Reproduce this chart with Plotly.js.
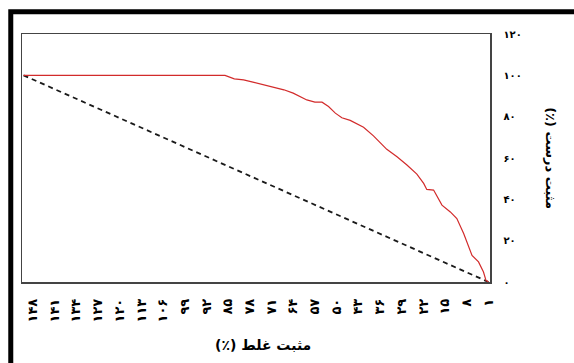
<!DOCTYPE html>
<html>
<head>
<meta charset="utf-8">
<script src="https://cdn.plot.ly/plotly-3.0.1.min.js"></script>
<style>html,body{margin:0;padding:0;background:#fff;}#chart{width:574px;height:363px;}</style>
</head>
<body>
<div id="chart"></div>
<script>
// Red ROC-like curve (x = false positive, y = true positive %)
var curveX = [151, 86, 83, 80, 77, 72.5, 70, 67, 64, 61.7, 59.6, 57, 54.7, 52.6, 50.4, 48.3, 45.6, 41.3, 38.1, 33.8, 30.5, 27.3, 24.1, 21.9, 20.9, 18.7, 16, 13.3, 11.2, 9, 6.3, 4.2, 2.6, 1.8, 1];
var curveY = [100, 100, 98.3, 97.8, 96.7, 95.1, 94.1, 93, 91.4, 89.7, 88.1, 87, 87, 84.9, 81.7, 79.5, 78.2, 74.9, 70.7, 64.2, 60.6, 56.6, 52.2, 47.7, 44.8, 44.5, 37.2, 33.9, 30.7, 23.5, 12.9, 9.7, 4.8, 0.8, 0];
// Dashed reference diagonal
var diagX = [151, 1];
var diagY = [100, 0];
// Tick labels
var xTickVals = [148, 141, 134, 127, 120, 113, 106, 99, 92, 85, 78, 71, 64, 57, 50, 43, 36, 29, 22, 15, 8, 1];
var xTickText = ['۱۴۸','۱۴۱','۱۳۴','۱۲۷','۱۲۰','۱۱۳','۱۰۶','۹۹','۹۲','۸۵','۷۸','۷۱','۶۴','۵۷','۵۰','۴۳','۳۶','۲۹','۲۲','۱۵','۸','۱'];
var yTickVals = [0, 20, 40, 60, 80, 100, 120];
var yTickText = ['۰','۲۰','۴۰','۶۰','۸۰','۱۰۰','۱۲۰'];
var xTitle = 'مثبت غلط (٪)';
var yTitle = 'مثبت درست (٪)';

var FONT = 'DejaVu Sans, Noto Sans, sans-serif';
function rtl(s) { return '\u202B' + s + '\u202C'; }

var traces = [
  {x: diagX, y: diagY, type: 'scatter', mode: 'lines',
   line: {color: '#1a1a1a', width: 1.8, dash: '5px,4px'}, hoverinfo: 'skip'},
  {x: curveX, y: curveY, type: 'scatter', mode: 'lines',
   line: {color: '#d22b2b', width: 1.2}, hoverinfo: 'skip'}
];

var layout = {
  width: 574, height: 363,
  margin: {l: 22, r: 84, t: 34, b: 81},
  paper_bgcolor: '#ffffff', plot_bgcolor: '#ffffff',
  showlegend: false,
  font: {family: FONT, color: '#000'},
  xaxis: {
    range: [151.5, 0.5], showgrid: false, zeroline: false,
    showline: true, mirror: true, linecolor: '#444444', linewidth: 1.5,
    ticks: '', tickmode: 'array', tickvals: xTickVals, ticktext: xTickText,
    tickangle: -90, ticklabelstandoff: 10,
    tickfont: {family: FONT, size: 13, color: '#000', weight: 'bold'}
  },
  yaxis: {
    range: [0, 120], side: 'right', showgrid: false, zeroline: false,
    showline: true, mirror: true, linecolor: '#444444', linewidth: 1.5,
    ticks: '', tickmode: 'array', tickvals: yTickVals, ticktext: yTickText,
    ticklabelstandoff: 10,
    tickfont: {family: FONT, size: 10, color: '#000', weight: 'bold'}
  },
  annotations: [
    {text: rtl(xTitle), xref: 'paper', yref: 'paper', x: 0.515, y: -0.255,
     xanchor: 'center', yanchor: 'middle', showarrow: false,
     font: {family: FONT, size: 14, color: '#000', weight: 'bold'}},
    {text: rtl(yTitle), xref: 'paper', yref: 'paper', x: 1.13, y: 0.5,
     xanchor: 'center', yanchor: 'middle', showarrow: false, textangle: 90,
     font: {family: FONT, size: 13, color: '#000', weight: 'bold'}}
  ],
  shapes: [
    {type: 'rect', xref: 'paper', yref: 'paper', x0: -0.024, x1: 1.4, y0: -0.5, y1: 1.09,
     line: {color: '#000', width: 5}, fillcolor: 'rgba(0,0,0,0)', layer: 'below'}
  ]
};

Plotly.newPlot('chart', traces, layout, {staticPlot: true, displayModeBar: false});
</script>
</body>
</html>
